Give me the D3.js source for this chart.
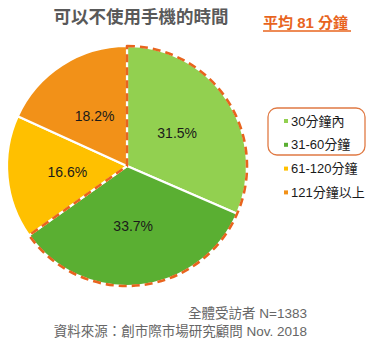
<!DOCTYPE html>
<html>
<head>
<meta charset="utf-8">
<script src="https://cdn.jsdelivr.net/npm/d3@7"></script>
<style>
  html, body { margin: 0; padding: 0; background: #fff; }
  svg { display: block; font-family: "Liberation Sans", Arial, "Noto Sans CJK TC", sans-serif; }
</style>
</head>
<body>
<svg id="chart" width="373" height="344"></svg>
<script>
// Time spent without the phone (share of respondents)
const categories = ["30分鐘內", "31-60分鐘", "61-120分鐘", "121分鐘以上"];
const values = [31.5, 33.7, 16.6, 18.2];
const colors = ["#92d050", "#5aaf32", "#ffc000", "#f29118"];
const highlighted = [0, 1]; // groups up to one hour, outlined with dashes

const svg = d3.select("#chart");
const cx = 127, cy = 166, R = 120;

const pie = d3.pie().sort(null).value(d => d.value);
const arcs = pie(categories.map((c, i) => ({ name: c, value: values[i], color: colors[i] })));
const arc = d3.arc().innerRadius(0).outerRadius(R);
const labelArc = d3.arc().innerRadius(R * 0.5).outerRadius(R * 0.5);

const g = svg.append("g").attr("transform", `translate(${cx},${cy})`);

g.selectAll("path.slice")
  .data(arcs)
  .join("path")
  .attr("class", "slice")
  .attr("d", arc)
  .attr("fill", d => d.data.color)
  .attr("stroke", "#fff")
  .attr("stroke-width", 2.2)
  .attr("stroke-linejoin", "round");

// dashed outline around the combined "within an hour" wedge
const hl = {
  startAngle: arcs[highlighted[0]].startAngle,
  endAngle: arcs[highlighted[highlighted.length - 1]].endAngle
};
g.append("path")
  .attr("d", arc(hl))
  .attr("fill", "none")
  .attr("stroke", "#e8641e")
  .attr("stroke-width", 2.6)
  .attr("stroke-dasharray", "8,5")
  .attr("stroke-linejoin", "round");

g.selectAll("text.pct")
  .data(arcs)
  .join("text")
  .attr("class", "pct")
  .attr("transform", d => `translate(${labelArc.centroid(d)})`)
  .attr("text-anchor", "middle")
  .attr("dy", "0.36em")
  .attr("font-size", 14)
  .attr("fill", "#1a1a1a")
  .text(d => d3.format(".1f")(d.data.value) + "%");

// title
svg.append("text")
  .attr("x", 141).attr("y", 23)
  .attr("text-anchor", "middle")
  .attr("font-size", 17.5)
  .attr("font-weight", "bold")
  .attr("fill", "#595959")
  .text("可以不使用手機的時間");

// average callout
const avg = svg.append("text")
  .attr("x", 263).attr("y", 28)
  .attr("font-size", 15)
  .attr("font-weight", "bold")
  .attr("fill", "#e8641e");
avg.append("tspan").text("平均 ");
avg.append("tspan").attr("font-weight", "bold").text("81");
avg.append("tspan").text(" 分鐘");
svg.append("line")
  .attr("x1", 263).attr("x2", 351)
  .attr("y1", 31).attr("y2", 31)
  .attr("stroke", "#e8641e").attr("stroke-width", 1.5);

// legend
const legendX = 284, legendY0 = 121, legendStep = 23.8;
svg.append("rect")
  .attr("x", 268).attr("y", 108)
  .attr("width", 97).attr("height", 47)
  .attr("rx", 9)
  .attr("fill", "none")
  .attr("stroke", "#e07a44")
  .attr("stroke-width", 1.3);

const legend = svg.selectAll("g.legend")
  .data(arcs)
  .join("g")
  .attr("class", "legend")
  .attr("transform", (d, i) => `translate(${legendX},${legendY0 + i * legendStep})`);
legend.append("rect")
  .attr("x", 0).attr("y", -2).attr("width", 4).attr("height", 4)
  .attr("fill", d => d.data.color);
legend.append("text")
  .attr("x", 7).attr("dy", "0.36em")
  .attr("font-size", 13)
  .attr("fill", "#1a1a1a")
  .text(d => d.data.name);

// footnotes
svg.append("text")
  .attr("x", 307).attr("y", 318)
  .attr("text-anchor", "end")
  .attr("font-size", 13.5)
  .attr("fill", "#666")
  .text("全體受訪者 N=1383");
svg.append("text")
  .attr("x", 307).attr("y", 336)
  .attr("text-anchor", "end")
  .attr("font-size", 13.5)
  .attr("fill", "#666")
  .text("資料來源：創市際市場研究顧問 Nov. 2018");
</script>
</body>
</html>
